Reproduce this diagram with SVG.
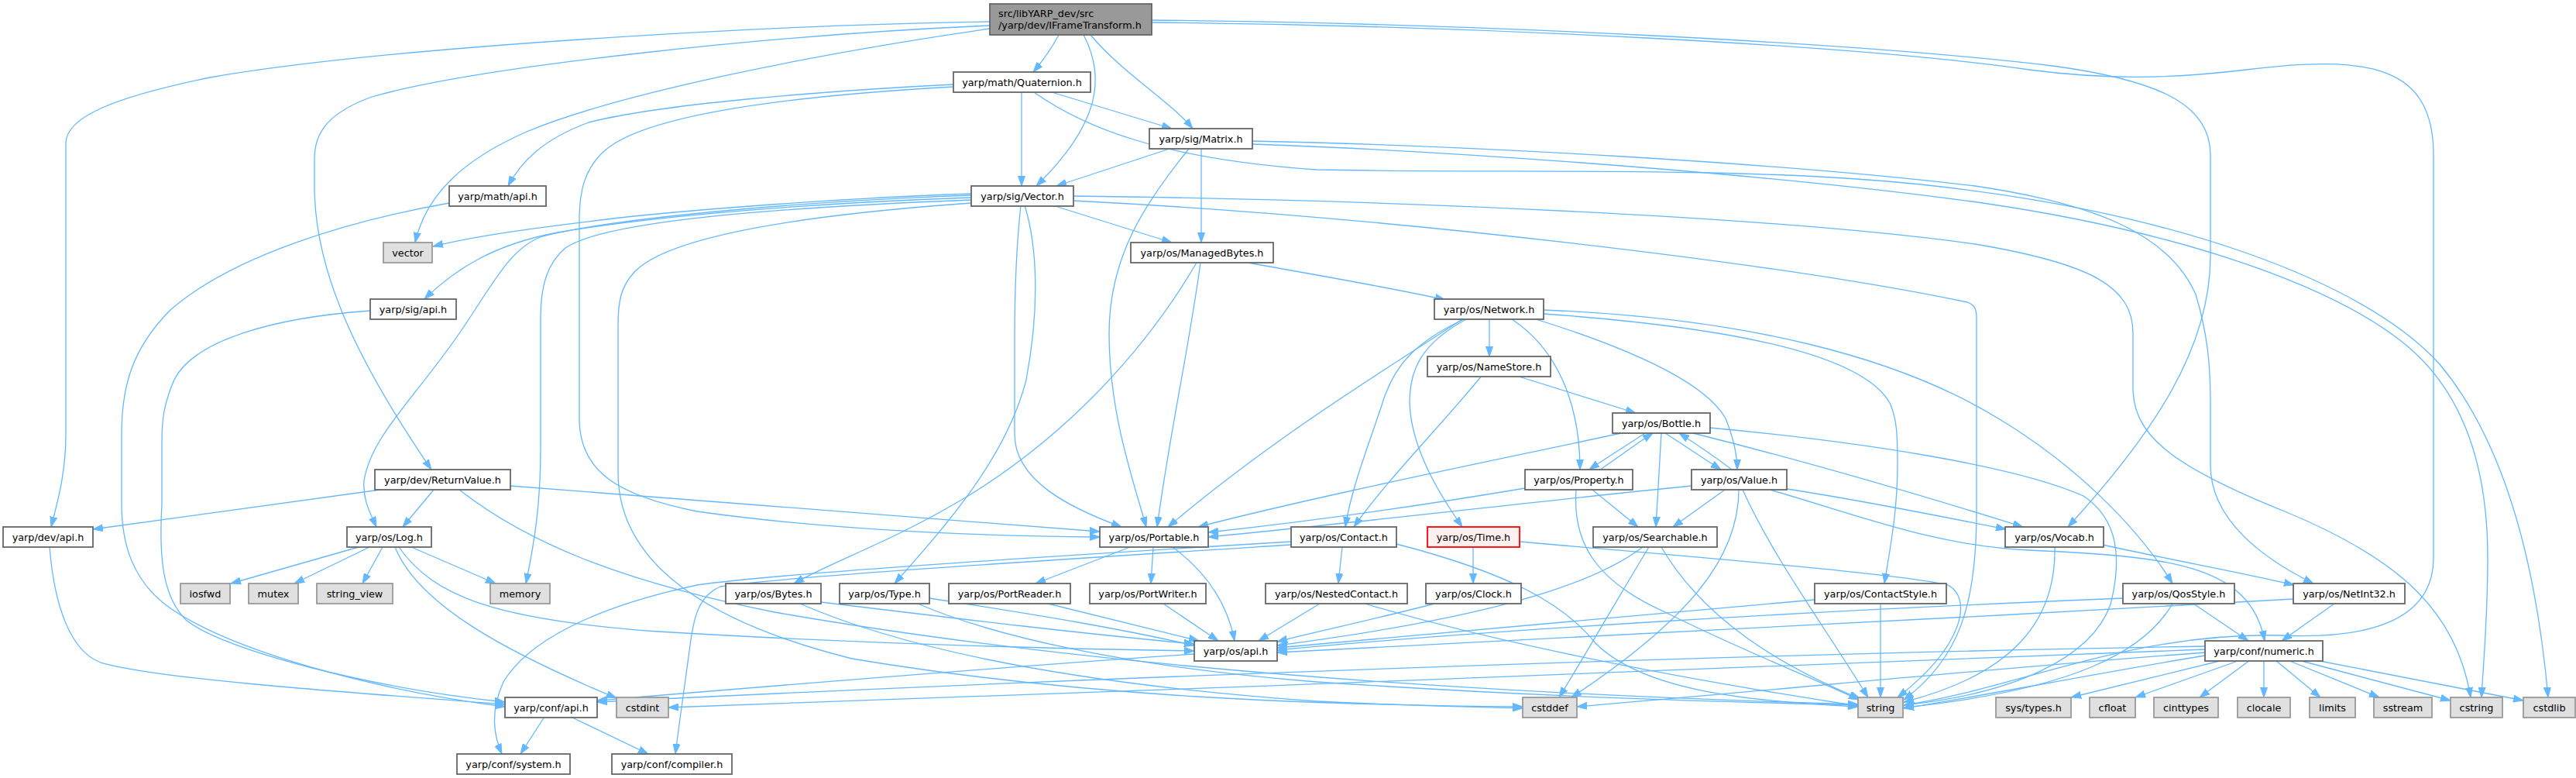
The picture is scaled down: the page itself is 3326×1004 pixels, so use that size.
<svg xmlns="http://www.w3.org/2000/svg" width="3326" height="1004" viewBox="0 0 3326 1004">
<defs>
<marker id="a" markerUnits="userSpaceOnUse" markerWidth="14" markerHeight="10" viewBox="0 0 14 10" refX="13" refY="5" orient="auto">
<path d="M0,0.5 L13,5 L0,9.5 z" fill="#63b8ff" stroke="#63b8ff" stroke-width="1"/>
</marker>
<style>
.e path{fill:none;stroke:#63b8ff;stroke-width:1.3;marker-end:url(#a)}
.n rect{fill:#ffffff;stroke:#666666;stroke-width:1.8}
.g rect{fill:#e0e0e0;stroke:#999999;stroke-width:1.8}
.r rect{fill:#999999;stroke:#666666;stroke-width:1.8}
.t rect{fill:#fff0f0;stroke:#ff0000;stroke-width:1.8}
text{font-family:"DejaVu Sans","Liberation Sans",sans-serif;font-size:12.8px;fill:#000000;text-anchor:middle}
.r text{text-anchor:start}
</style>
</defs>
<rect x="0" y="0" width="3326" height="1004" fill="#ffffff"/>
<g id="edges" class="e">
<path d="M1367,45 C1358,62 1345,80 1334,93"/>
<path d="M1408,45 C1450,95 1510,130 1540,166"/>
<path d="M1399,45 C1428,100 1420,160 1338,240"/>
<path d="M1278,28 C1000,32 500,60 271,100 C150,125 85,150 85,185 L85,560 C85,610 75,645 66,680"/>
<path d="M1278,33 C1000,45 620,85 480,125 C425,145 406,170 406,205 L406,240 C406,340 450,450 557,606"/>
<path d="M1278,37 C1050,70 800,120 680,170 C600,205 550,250 536,313"/>
<path d="M1487,26 C1900,30 2400,55 2650,85 C2800,105 2854,140 2854,200 L2854,330 C2854,450 2780,560 2670,680"/>
<path d="M1487,29 C1900,33 2400,58 2620,90 C2720,103 2800,102 2900,90 C3060,70 3142,85 3142,200 L3142,720 C3142,800 3060,825 2946,820 C2750,815 2600,890 2458,910"/>
<path d="M1319,119 L1319,240"/>
<path d="M1358,119 L1513,166"/>
<path d="M1231,109 C1050,118 850,135 760,158 C700,180 672,210 656,240"/>
<path d="M1231,112 C1000,125 830,150 780,195 C755,218 748,245 748,285 L748,540 C748,610 800,640 900,660 C1100,688 1300,692 1420,693"/>
<path d="M1335,119 C1400,165 1500,205 1700,219 C1950,224 2250,214 2480,238 C2800,272 3050,360 3150,470 C3225,560 3272,700 3290,900"/>
<path d="M1510,192 L1364,240"/>
<path d="M1535,192 C1480,260 1432,330 1432,430 C1432,530 1460,610 1480,680"/>
<path d="M1551,192 L1551,313"/>
<path d="M1617,182 C1900,188 2300,210 2550,240 C2700,262 2800,300 2835,380 C2850,430 2854,470 2854,520 L2854,600 C2854,670 2920,720 2987,753"/>
<path d="M1617,186 C1900,196 2300,226 2560,262 C2800,297 3000,362 3100,440 C3180,502 3212,600 3212,720 C3212,800 3206,860 3204,900"/>
<path d="M1254,250 C1100,255 900,270 800,281 C700,293 620,303 559,318"/>
<path d="M1254,252 C1050,259 800,280 700,305 C660,320 640,360 600,420 C540,510 480,560 470,620 C468,645 478,662 486,680"/>
<path d="M1254,255 C1050,262 850,278 720,300 C640,315 590,345 548,386"/>
<path d="M1254,258 C1000,268 780,285 730,320 C706,340 698,370 698,410 L698,580 C698,650 690,700 679,753"/>
<path d="M1254,262 C1000,280 860,310 820,350 C801,370 798,390 798,420 L798,610 C798,720 900,800 1100,850 C1400,900 1700,910 1966,912"/>
<path d="M1318,265 C1312,320 1310,380 1310,440 L1310,560 C1310,620 1380,655 1448,680"/>
<path d="M1323,265 C1340,320 1342,400 1325,490 C1300,590 1220,680 1155,753"/>
<path d="M1359,265 L1513,313"/>
<path d="M1386,253 C1800,258 2300,280 2550,315 C2700,340 2754,370 2754,430 L2754,500 C2754,560 2800,600 2950,660 C3100,722 3172,790 3190,900"/>
<path d="M1386,259 C1800,280 2300,340 2540,390 C2550,393 2552,400 2552,410 L2552,660 C2552,780 2530,850 2458,903"/>
<path d="M1611,339 C1700,355 1800,372 1866,387"/>
<path d="M1550,339 C1535,450 1510,560 1494,680"/>
<path d="M1545,339 C1480,450 1380,560 1250,640 C1150,700 1080,722 1025,753"/>
<path d="M1923,412 L1923,460"/>
<path d="M1888,412 C1800,470 1650,560 1508,680"/>
<path d="M1890,412 C1830,440 1800,470 1785,520 C1765,580 1745,630 1737,680"/>
<path d="M1893,412 C1832,445 1820,480 1820,520 C1822,580 1860,640 1888,680"/>
<path d="M1952,412 C2010,450 2040,520 2040,606"/>
<path d="M1983,412 C2090,445 2200,490 2228,540 C2240,570 2243,590 2243,606"/>
<path d="M1993,405 C2200,420 2400,450 2440,520 C2449,540 2450,560 2450,600 C2450,660 2440,710 2433,753"/>
<path d="M1993,400 C2250,410 2450,460 2580,540 C2680,600 2760,680 2805,753"/>
<path d="M1913,485 C1860,550 1790,620 1748,680"/>
<path d="M1958,485 L2112,533"/>
<path d="M2124,559 C2100,575 2075,590 2052,606"/>
<path d="M2066,606 C2090,590 2112,573 2134,559"/>
<path d="M2150,559 C2175,575 2200,592 2222,606"/>
<path d="M2236,606 C2215,590 2190,573 2168,559"/>
<path d="M2145,559 L2138,680"/>
<path d="M2093,559 C1950,590 1700,640 1547,680"/>
<path d="M1969,630 C1850,650 1700,672 1560,687"/>
<path d="M2184,627 C2000,645 1750,675 1560,693"/>
<path d="M2208,552 C2400,570 2600,600 2690,640 C2735,670 2740,720 2725,780 C2700,850 2600,895 2458,910"/>
<path d="M2186,559 C2350,600 2500,645 2612,680"/>
<path d="M2227,632 L2160,680"/>
<path d="M2245,632 C2245,720 2180,800 2029,900"/>
<path d="M2250,632 C2290,720 2350,800 2412,900"/>
<path d="M2307,631 C2400,645 2500,665 2590,683"/>
<path d="M2285,632 C2400,665 2500,705 2620,710 C2800,718 2905,728 2924,827"/>
<path d="M2056,632 L2115,680"/>
<path d="M2035,632 C2030,700 2060,750 2150,790 C2250,840 2330,870 2400,903"/>
<path d="M2121,706 C2050,760 1900,800 1649,833"/>
<path d="M2129,706 C2090,770 2050,840 2013,900"/>
<path d="M2145,706 C2200,800 2300,860 2402,902"/>
<path d="M1733,706 L1728,753"/>
<path d="M1803,702 C1950,740 2020,780 2060,830 C2120,890 2250,905 2399,912"/>
<path d="M1667,699 C1400,715 1000,740 900,755 C760,785 680,830 650,880 C632,920 638,950 648,973"/>
<path d="M1667,703 C1400,720 1000,745 930,757 C900,770 895,800 890,840 C882,900 876,940 872,973"/>
<path d="M1902,706 L1902,753"/>
<path d="M1962,699 C2200,720 2450,740 2515,755 C2545,770 2540,830 2450,900"/>
<path d="M1704,779 L1625,827"/>
<path d="M1762,779 C1900,820 2100,865 2399,911"/>
<path d="M1852,779 C1780,798 1700,815 1649,828"/>
<path d="M2343,774 C2100,795 1850,820 1649,836"/>
<path d="M2428,779 L2428,900"/>
<path d="M2741,772 C2300,790 1900,815 1649,839"/>
<path d="M2832,779 L2903,827"/>
<path d="M2805,779 C2770,840 2680,890 2458,913"/>
<path d="M2961,773 C2500,800 1950,825 1649,842"/>
<path d="M3014,779 L2946,827"/>
<path d="M2715,703 C2800,722 2900,740 2962,755"/>
<path d="M2653,706 C2655,800 2600,870 2458,906"/>
<path d="M2870,852 L2674,900"/>
<path d="M2892,852 L2757,900"/>
<path d="M2905,852 L2840,900"/>
<path d="M2923,852 L2923,900"/>
<path d="M2938,852 L2996,900"/>
<path d="M2954,852 L3072,900"/>
<path d="M2968,852 L3164,904"/>
<path d="M2990,852 L3258,904"/>
<path d="M2847,846 C2700,870 2550,900 2458,914"/>
<path d="M2847,842 C2600,860 2300,890 2036,912"/>
<path d="M2847,838 C2400,858 1500,890 863,913"/>
<path d="M2847,834 C2300,843 1500,870 771,906"/>
<path d="M1542,844 C1300,860 1000,885 771,904"/>
<path d="M463,706 L298,753"/>
<path d="M477,706 L380,753"/>
<path d="M494,706 L468,753"/>
<path d="M531,706 L640,753"/>
<path d="M510,706 C540,780 650,840 796,901"/>
<path d="M515,706 C560,770 640,800 850,815 C1100,830 1350,837 1542,840"/>
<path d="M491,632 L120,683"/>
<path d="M560,632 L520,680"/>
<path d="M659,627 C900,645 1200,670 1420,686"/>
<path d="M593,632 C680,700 800,750 1000,790 C1400,860 1900,895 2399,909"/>
<path d="M1200,772 C1350,795 1450,812 1542,833"/>
<path d="M1185,779 C1280,820 1450,860 1700,880 C2000,900 2200,905 2399,910"/>
<path d="M1060,777 C1250,800 1400,818 1542,831"/>
<path d="M1033,779 C1150,830 1350,880 1700,905 C1800,910 1900,912 1966,914"/>
<path d="M1353,779 L1548,827"/>
<path d="M1502,779 L1573,827"/>
<path d="M1459,706 L1337,753"/>
<path d="M1489,706 L1486,753"/>
<path d="M1514,706 C1560,740 1585,780 1594,827"/>
<path d="M580,262 C450,285 300,330 220,400 C170,450 157,500 157,560 L157,650 C157,700 170,750 220,785 C300,840 480,890 652,912"/>
<path d="M478,401 C350,410 250,440 225,490 C212,520 209,540 209,570 L209,650 C205,720 210,770 240,800 C290,840 480,888 652,906"/>
<path d="M64,706 C70,780 90,840 130,855 C200,875 400,890 652,909"/>
<path d="M703,925 L672,973"/>
<path d="M737,925 L837,973"/>
</g>
<g id="n0" class="r"><rect x="1278" y="5" width="209" height="40"/><text x="1289" y="22">src/libYARP_dev/src</text><text x="1289" y="37">/yarp/dev/IFrameTransform.h</text></g>
<g id="n1" class="n"><rect x="1231" y="93" width="177" height="26"/><text x="1319.5" y="110.5">yarp/math/Quaternion.h</text></g>
<g id="n2" class="n"><rect x="1484" y="166" width="133" height="26"/><text x="1550.5" y="183.5">yarp/sig/Matrix.h</text></g>
<g id="n3" class="n"><rect x="1254" y="240" width="132" height="26"/><text x="1320" y="257.5">yarp/sig/Vector.h</text></g>
<g id="n4" class="n"><rect x="580" y="240" width="125" height="26"/><text x="642.5" y="257.5">yarp/math/api.h</text></g>
<g id="n5" class="g"><rect x="495" y="313" width="63" height="26"/><text x="526.5" y="330.5">vector</text></g>
<g id="n6" class="n"><rect x="1460" y="313" width="184" height="26"/><text x="1552" y="330.5">yarp/os/ManagedBytes.h</text></g>
<g id="n7" class="n"><rect x="478" y="386" width="111" height="26"/><text x="533.5" y="403.5">yarp/sig/api.h</text></g>
<g id="n8" class="n"><rect x="1852" y="386" width="141" height="26"/><text x="1922.5" y="403.5">yarp/os/Network.h</text></g>
<g id="n9" class="n"><rect x="1843" y="460" width="159" height="26"/><text x="1922.5" y="477.5">yarp/os/NameStore.h</text></g>
<g id="n10" class="n"><rect x="2082" y="533" width="126" height="26"/><text x="2145" y="550.5">yarp/os/Bottle.h</text></g>
<g id="n11" class="n"><rect x="484" y="606" width="175" height="26"/><text x="571.5" y="623.5">yarp/dev/ReturnValue.h</text></g>
<g id="n12" class="n"><rect x="1969" y="606" width="139" height="26"/><text x="2038.5" y="623.5">yarp/os/Property.h</text></g>
<g id="n13" class="n"><rect x="2184" y="606" width="123" height="26"/><text x="2245.5" y="623.5">yarp/os/Value.h</text></g>
<g id="n14" class="n"><rect x="4" y="680" width="116" height="26"/><text x="62" y="697.5">yarp/dev/api.h</text></g>
<g id="n15" class="n"><rect x="448" y="680" width="109" height="26"/><text x="502.5" y="697.5">yarp/os/Log.h</text></g>
<g id="n16" class="n"><rect x="1420" y="680" width="140" height="26"/><text x="1490" y="697.5">yarp/os/Portable.h</text></g>
<g id="n17" class="n"><rect x="1667" y="680" width="136" height="26"/><text x="1735" y="697.5">yarp/os/Contact.h</text></g>
<g id="n18" class="t"><rect x="1843" y="680" width="119" height="26"/><text x="1902.5" y="697.5">yarp/os/Time.h</text></g>
<g id="n19" class="n"><rect x="2057" y="680" width="160" height="26"/><text x="2137" y="697.5">yarp/os/Searchable.h</text></g>
<g id="n20" class="n"><rect x="2589" y="680" width="127" height="26"/><text x="2652.5" y="697.5">yarp/os/Vocab.h</text></g>
<g id="n21" class="g"><rect x="233" y="753" width="64" height="26"/><text x="265" y="770.5">iosfwd</text></g>
<g id="n22" class="g"><rect x="321" y="753" width="64" height="26"/><text x="353" y="770.5">mutex</text></g>
<g id="n23" class="g"><rect x="409" y="753" width="98" height="26"/><text x="458" y="770.5">string_view</text></g>
<g id="n24" class="g"><rect x="633" y="753" width="77" height="26"/><text x="671.5" y="770.5">memory</text></g>
<g id="n25" class="n"><rect x="937" y="753" width="123" height="26"/><text x="998.5" y="770.5">yarp/os/Bytes.h</text></g>
<g id="n26" class="n"><rect x="1084" y="753" width="116" height="26"/><text x="1142" y="770.5">yarp/os/Type.h</text></g>
<g id="n27" class="n"><rect x="1225" y="753" width="157" height="26"/><text x="1303.5" y="770.5">yarp/os/PortReader.h</text></g>
<g id="n28" class="n"><rect x="1407" y="753" width="150" height="26"/><text x="1482" y="770.5">yarp/os/PortWriter.h</text></g>
<g id="n29" class="n"><rect x="1634" y="753" width="183" height="26"/><text x="1725.5" y="770.5">yarp/os/NestedContact.h</text></g>
<g id="n30" class="n"><rect x="1841" y="753" width="123" height="26"/><text x="1902.5" y="770.5">yarp/os/Clock.h</text></g>
<g id="n31" class="n"><rect x="2343" y="753" width="170" height="26"/><text x="2428" y="770.5">yarp/os/ContactStyle.h</text></g>
<g id="n32" class="n"><rect x="2741" y="753" width="144" height="26"/><text x="2813" y="770.5">yarp/os/QosStyle.h</text></g>
<g id="n33" class="n"><rect x="2961" y="753" width="144" height="26"/><text x="3033" y="770.5">yarp/os/NetInt32.h</text></g>
<g id="n34" class="n"><rect x="1542" y="827" width="107" height="26"/><text x="1595.5" y="844.5">yarp/os/api.h</text></g>
<g id="n35" class="n"><rect x="2847" y="827" width="152" height="26"/><text x="2923" y="844.5">yarp/conf/numeric.h</text></g>
<g id="n36" class="n"><rect x="652" y="900" width="119" height="26"/><text x="711.5" y="917.5">yarp/conf/api.h</text></g>
<g id="n37" class="g"><rect x="796" y="900" width="67" height="26"/><text x="829.5" y="917.5">cstdint</text></g>
<g id="n38" class="g"><rect x="1966" y="900" width="70" height="26"/><text x="2001" y="917.5">cstddef</text></g>
<g id="n39" class="g"><rect x="2399" y="900" width="58" height="26"/><text x="2428" y="917.5">string</text></g>
<g id="n40" class="g"><rect x="2577" y="900" width="97" height="26"/><text x="2625.5" y="917.5">sys/types.h</text></g>
<g id="n41" class="g"><rect x="2698" y="900" width="59" height="26"/><text x="2727.5" y="917.5">cfloat</text></g>
<g id="n42" class="g"><rect x="2781" y="900" width="83" height="26"/><text x="2822.5" y="917.5">cinttypes</text></g>
<g id="n43" class="g"><rect x="2889" y="900" width="68" height="26"/><text x="2923" y="917.5">clocale</text></g>
<g id="n44" class="g"><rect x="2982" y="900" width="59" height="26"/><text x="3011.5" y="917.5">limits</text></g>
<g id="n45" class="g"><rect x="3065" y="900" width="75" height="26"/><text x="3102.5" y="917.5">sstream</text></g>
<g id="n46" class="g"><rect x="3164" y="900" width="67" height="26"/><text x="3197.5" y="917.5">cstring</text></g>
<g id="n47" class="g"><rect x="3258" y="900" width="67" height="26"/><text x="3291.5" y="917.5">cstdlib</text></g>
<g id="n48" class="n"><rect x="590" y="973" width="146" height="26"/><text x="663" y="990.5">yarp/conf/system.h</text></g>
<g id="n49" class="n"><rect x="790" y="973" width="155" height="26"/><text x="867.5" y="990.5">yarp/conf/compiler.h</text></g>
</svg>
